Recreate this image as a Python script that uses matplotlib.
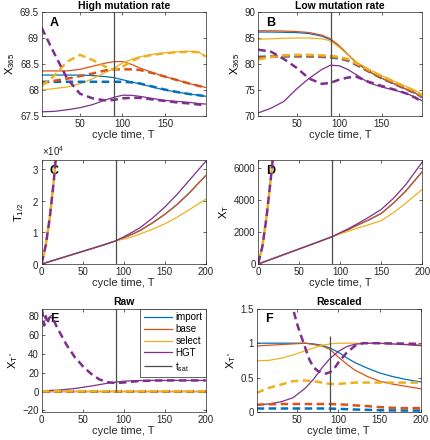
import matplotlib
matplotlib.use('Agg')
import matplotlib.pyplot as plt
from matplotlib.ticker import ScalarFormatter

plt.rcParams['font.family'] = ['Liberation Sans', 'DejaVu Sans']
plt.rcParams['mathtext.fontset'] = 'custom'
plt.rcParams['mathtext.rm'] = 'Liberation Sans'
plt.rcParams['mathtext.it'] = 'Liberation Sans'

# colours (MATLAB default order)
col_import = '#0072BD'
col_base = '#D95319'
col_select = '#EDB120'
col_hgt = '#7E2F8E'
col_tsat = '#4D4D4D'
t_sat = 90

# ---- panel A: high mutation rate, X_365 ----
ab_t = [5, 20, 35, 50, 65, 80, 90, 100, 110, 120, 135, 150, 165, 180, 190, 198]
a_import = [68.29, 68.29, 68.29, 68.29, 68.28, 68.26, 68.24, 68.2, 68.16, 68.12, 68.06, 68.0, 67.96, 67.92, 67.9, 67.88]
a_import_d = [68.16, 68.16, 68.16, 68.16, 68.16, 68.16, 68.16, 68.16, 68.15, 68.13, 68.07, 68.01, 67.96, 67.92, 67.9, 67.88]
a_base = [68.37, 68.37, 68.37, 68.4, 68.46, 68.52, 68.55, 68.55, 68.5, 68.43, 68.34, 68.26, 68.19, 68.12, 68.08, 68.05]
a_base_d = [68.13, 68.18, 68.22, 68.27, 68.32, 68.38, 68.4, 68.4, 68.4, 68.39, 68.33, 68.26, 68.19, 68.12, 68.08, 68.05]
a_select = [68.0, 68.03, 68.06, 68.12, 68.22, 68.34, 68.42, 68.52, 68.59, 68.64, 68.69, 68.72, 68.74, 68.75, 68.73, 68.65]
a_select_d = [68.08, 68.28, 68.55, 68.68, 68.58, 68.45, 68.39, 68.45, 68.55, 68.63, 68.68, 68.71, 68.73, 68.74, 68.73, 68.65]
a_hgt = [67.58, 67.59, 67.62, 67.66, 67.72, 67.81, 67.86, 67.9, 67.9, 67.88, 67.84, 67.8, 67.78, 67.76, 67.74, 67.73]
a_hgt_d = [69.2, 68.7, 68.22, 67.93, 67.84, 67.8, 67.81, 67.84, 67.85, 67.85, 67.82, 67.79, 67.76, 67.74, 67.72, 67.71]

# ---- panel B: low mutation rate, X_365 ----
b_import = [86.2, 86.2, 86.15, 86.1, 85.9, 85.4, 84.7, 83.4, 81.9, 80.3, 78.6, 77.3, 76.2, 75.1, 74.4, 73.6]
b_import_d = [81.4, 81.5, 81.5, 81.5, 81.5, 81.4, 81.3, 81.1, 80.7, 79.9, 78.6, 77.3, 76.2, 75.1, 74.4, 73.6]
b_base = [86.45, 86.45, 86.4, 86.3, 86.1, 85.6, 84.9, 83.6, 82.0, 80.4, 78.6, 77.3, 76.2, 75.1, 74.4, 73.7]
b_base_d = [81.2, 81.4, 81.6, 81.6, 81.6, 81.5, 81.4, 81.2, 80.8, 80.0, 78.6, 77.4, 76.3, 75.2, 74.5, 73.7]
b_select = [84.8, 84.9, 85.0, 85.05, 85.05, 84.9, 84.5, 83.3, 81.9, 80.5, 79.0, 77.8, 76.7, 75.6, 74.9, 74.1]
b_select_d = [80.9, 81.4, 81.7, 81.8, 81.8, 81.7, 81.6, 81.4, 81.0, 80.2, 78.9, 77.7, 76.6, 75.5, 74.8, 74.0]
b_hgt = [70.6, 71.5, 72.8, 75.2, 77.3, 79.0, 79.8, 79.7, 79.0, 78.0, 76.4, 75.6, 75.0, 74.3, 73.6, 72.9]
b_hgt_d = [82.8, 82.4, 81.0, 79.3, 77.2, 76.2, 76.4, 77.0, 77.4, 77.6, 76.6, 75.8, 75.1, 74.3, 73.5, 72.7]

# ---- panels C/D: T_1/2 and X_T ----
cd_t = [0, 25, 50, 75, 90, 100, 110, 120, 135, 150, 165, 180, 200]
c_base = [0, 2000, 4000, 6000, 7300, 8300, 9400, 10600, 13000, 15700, 18800, 22500, 28000]
c_select = [0, 2000, 4000, 6000, 7300, 7900, 8600, 9500, 11000, 12700, 14800, 17200, 20500]
c_hgt = [0, 2000, 4000, 6000, 7300, 8600, 10000, 11500, 14500, 18000, 22000, 26500, 32500]
cd_dash_t = [0, 5, 10, 15, 20]
c_dash = [200, 6000, 15000, 27000, 42000]

d_base = [0, 470, 940, 1410, 1700, 1920, 2150, 2400, 2750, 3150, 3800, 4550, 5750]
d_select = [0, 470, 940, 1410, 1700, 1880, 2040, 2220, 2450, 2700, 3200, 3800, 4650]
d_hgt = [0, 470, 940, 1410, 1700, 1950, 2200, 2480, 2920, 3400, 4100, 4950, 6350]
d_dash = [50, 1100, 2900, 5200, 7700]

# ---- panel E: raw X_T* ----
e_t = [0, 50, 100, 150, 200]
e_import = [1.0, 1.0, 1.0, 1.0, 1.0]
e_base = [1.0, 1.0, 1.0, 1.0, 1.0]
e_select = [0.9, 0.9, 0.9, 0.9, 0.9]
e_import_d = [0.1, 0.1, 0.1, 0.1, 0.1]
e_base_d = [0.15, 0.15, 0.15, 0.15, 0.15]
e_select_d = [0.3, 0.35, 0.35, 0.35, 0.35]
e_hgt_t = [0, 20, 40, 60, 80, 90, 100, 120, 140, 160, 200]
e_hgt = [0.9, 1.5, 3.2, 5.8, 8.8, 10.0, 11.0, 11.7, 11.9, 11.9, 11.8]
e_hgt_dt = [0, 1, 3, 5, 7, 9, 12, 20, 30, 40, 50, 60, 70, 80, 90, 100, 110, 120, 140, 160, 200]
e_hgt_d = [88, 84, 70, 80, 72, 78, 80, 66, 50, 37, 27, 19, 13, 10, 9, 9.6, 10.5, 11.2, 11.7, 11.8, 11.8]

# ---- panel F: rescaled X_T* ----
f_t = [1, 15, 30, 45, 60, 70, 80, 90, 100, 110, 120, 135, 150, 165, 180, 200]
f_import = [1.0, 1.0, 1.0, 1.0, 1.0, 0.99, 0.97, 0.93, 0.87, 0.79, 0.72, 0.64, 0.57, 0.52, 0.48, 0.44]
f_base = [0.96, 0.97, 0.98, 0.99, 1.0, 0.98, 0.96, 0.91, 0.8, 0.7, 0.61, 0.52, 0.45, 0.41, 0.38, 0.34]
f_select = [0.745, 0.75, 0.78, 0.83, 0.89, 0.93, 0.97, 0.99, 1.0, 1.0, 1.0, 1.0, 0.995, 0.99, 0.985, 0.98]
f_hgt = [0.107, 0.12, 0.15, 0.21, 0.35, 0.48, 0.64, 0.78, 0.88, 0.95, 0.985, 1.0, 1.0, 0.99, 0.98, 0.965]
f_import_d = [0.055, 0.055, 0.055, 0.055, 0.055, 0.055, 0.055, 0.053, 0.05, 0.045, 0.04, 0.035, 0.03, 0.027, 0.025, 0.025]
f_base_d = [0.11, 0.115, 0.12, 0.12, 0.12, 0.12, 0.12, 0.12, 0.115, 0.11, 0.1, 0.09, 0.075, 0.065, 0.06, 0.06]
f_select_d = [0.28, 0.35, 0.4, 0.45, 0.46, 0.45, 0.43, 0.41, 0.41, 0.42, 0.43, 0.43, 0.43, 0.43, 0.43, 0.43]
f_hgt_dt = [30, 45, 50, 55, 60, 65, 70, 75, 80, 85, 90, 95, 100, 110, 120, 130, 150, 175, 200]
f_hgt_d = [2.3, 1.5, 1.28, 1.1, 0.93, 0.76, 0.65, 0.6, 0.57, 0.56, 0.58, 0.63, 0.72, 0.86, 0.96, 1.0, 1.0, 0.995, 0.99]

lw_s = 0.9
lw_d = 1.8
dash = (3, 1.8)

fig = plt.figure(figsize=(4.3, 4.4), dpi=100)
w, h = 0.3814, 0.2355
axA = fig.add_axes([0.097, 0.7364, w, h])
axB = fig.add_axes([0.6007, 0.7364, w, h])
axC = fig.add_axes([0.097, 0.400, w, h])
axD = fig.add_axes([0.6007, 0.400, w, h])
axE = fig.add_axes([0.097, 0.063, w, h])
axF = fig.add_axes([0.597, 0.063, w, h])


def style(ax, letter):
    ax.tick_params(direction='in', top=True, right=True, length=2.5, width=0.5,
                   labelsize=7, colors='#262626', pad=2)
    for s in ax.spines.values():
        s.set_linewidth(0.5)
        s.set_color('#262626')
    ax.set_xlabel('cycle time, T', fontsize=8, color='#262626', labelpad=1)
    ax.text(0.05, 0.9, letter, transform=ax.transAxes, fontsize=9,
            fontweight='bold', ha='left', va='center', zorder=1)


def four(ax, t, imp, base, sel, hgt, imp_d, base_d, sel_d, hgt_d, t_hd=None):
    if t_hd is None:
        t_hd = t
    ax.plot(t, imp, color=col_import, lw=lw_s)
    ax.plot(t, base, color=col_base, lw=lw_s)
    ax.plot(t, sel, color=col_select, lw=lw_s)
    ax.plot(t, hgt, color=col_hgt, lw=lw_s)
    ax.plot(t, imp_d, color=col_import, lw=lw_d, ls='--', dashes=dash)
    ax.plot(t, base_d, color=col_base, lw=lw_d, ls='--', dashes=dash)
    ax.plot(t, sel_d, color=col_select, lw=lw_d, ls='--', dashes=dash)
    ax.plot(t_hd, hgt_d, color=col_hgt, lw=lw_d, ls='--', dashes=dash)


# A
four(axA, ab_t, a_import, a_base, a_select, a_hgt, a_import_d, a_base_d, a_select_d, a_hgt_d)
axA.axvline(t_sat, color=col_tsat, lw=0.9)
axA.set_xlim(5, 198)
axA.set_ylim(67.5, 69.5)
axA.set_xticks([50, 100, 150])
axA.set_yticks([67.5, 68, 68.5, 69, 69.5])
axA.set_yticklabels(['67.5', '68', '68.5', '69', '69.5'])
axA.set_ylabel('X$_{365}$', fontsize=8, labelpad=2)
axA.set_title('High mutation rate', fontsize=7.5, fontweight='bold', pad=2.5)
style(axA, 'A')

# B
four(axB, ab_t, b_import, b_base, b_select, b_hgt, b_import_d, b_base_d, b_select_d, b_hgt_d)
axB.axvline(t_sat, color=col_tsat, lw=0.9)
axB.set_xlim(5, 198)
axB.set_ylim(70, 90)
axB.set_xticks([50, 100, 150])
axB.set_yticks([70, 75, 80, 85, 90])
axB.set_ylabel('X$_{365}$', fontsize=8, labelpad=2)
axB.set_title('Low mutation rate', fontsize=7.5, fontweight='bold', pad=2.5)
style(axB, 'B')

# C
axC.plot(cd_t, c_base, color=col_import, lw=lw_s)
axC.plot(cd_t, c_base, color=col_base, lw=lw_s)
axC.plot(cd_t, c_select, color=col_select, lw=lw_s)
axC.plot(cd_t, c_hgt, color=col_hgt, lw=lw_s)
axC.plot(cd_dash_t, c_dash, color=col_select, lw=lw_d, ls=(2.4, dash))
axC.plot(cd_dash_t, c_dash, color=col_hgt, lw=lw_d, ls='--', dashes=dash)
axC.axvline(t_sat, color=col_tsat, lw=0.9)
axC.set_xlim(0, 200)
axC.set_ylim(0, 32800)
axC.set_xticks([0, 50, 100, 150, 200])
axC.set_yticks([0, 10000, 20000, 30000])
fmt = ScalarFormatter(useMathText=True)
fmt.set_powerlimits((0, 0))
axC.yaxis.set_major_formatter(fmt)
axC.yaxis.get_offset_text().set_fontsize(7)
axC.yaxis.get_offset_text().set_color('#262626')
axC.set_ylabel('T$_{1/2}$', fontsize=8, labelpad=4)
style(axC, 'C')

# D
axD.plot(cd_t, d_base, color=col_import, lw=lw_s)
axD.plot(cd_t, d_base, color=col_base, lw=lw_s)
axD.plot(cd_t, d_select, color=col_select, lw=lw_s)
axD.plot(cd_t, d_hgt, color=col_hgt, lw=lw_s)
axD.plot(cd_dash_t, d_dash, color=col_select, lw=lw_d, ls=(2.4, dash))
axD.plot(cd_dash_t, d_dash, color=col_hgt, lw=lw_d, ls='--', dashes=dash)
axD.axvline(t_sat, color=col_tsat, lw=0.9)
axD.set_xlim(0, 200)
axD.set_ylim(0, 6450)
axD.set_xticks([0, 50, 100, 150, 200])
axD.set_yticks([0, 2000, 4000, 6000])
axD.set_ylabel('X$_T$', fontsize=8, labelpad=2)
style(axD, 'D')

# E
axE.plot(e_t, e_import, color=col_import, lw=lw_s, label='import')
axE.plot(e_t, e_base, color=col_base, lw=lw_s, label='base')
axE.plot(e_t, e_select, color=col_select, lw=lw_s, label='select')
axE.plot(e_hgt_t, e_hgt, color=col_hgt, lw=lw_s, label='HGT')
axE.plot(e_t, e_import_d, color=col_import, lw=lw_d, ls='--', dashes=dash)
axE.plot(e_t, e_base_d, color=col_base, lw=lw_d, ls='--', dashes=dash)
axE.plot(e_t, e_select_d, color=col_select, lw=lw_d, ls='--', dashes=dash)
axE.plot(e_hgt_dt, e_hgt_d, color=col_hgt, lw=lw_d, ls='--', dashes=dash)
axE.vlines(t_sat, 0, 100, color=col_tsat, lw=0.9, label='t$_{sat}$')
axE.set_xlim(0, 200)
axE.set_ylim(-22, 88)
axE.set_xticks([0, 50, 100, 150, 200])
axE.set_yticks([-20, 0, 20, 40, 60, 80])
axE.set_ylabel('X$_{T^*}$', fontsize=8, labelpad=2)
axE.set_title('Raw', fontsize=7.5, fontweight='bold', pad=2.5)
leg = axE.legend(loc='upper right', fontsize=7, frameon=True, fancybox=False,
                 borderaxespad=0, handlelength=2.9, handletextpad=0.35,
                 labelspacing=0.2, borderpad=0.35, framealpha=1)
leg.get_frame().set_edgecolor('#262626')
leg.get_frame().set_linewidth(0.5)
style(axE, 'E')

# F
four(axF, f_t, f_import, f_base, f_select, f_hgt, f_import_d, f_base_d, f_select_d, f_hgt_d, t_hd=f_hgt_dt)
axF.vlines(t_sat, 0, 1.1, color=col_tsat, lw=0.9)
axF.set_xlim(1, 200)
axF.set_ylim(0, 1.5)
axF.set_xticks([50, 100, 150, 200])
axF.set_yticks([0, 0.5, 1, 1.5])
axF.set_yticklabels(['0', '0.5', '1', '1.5'])
axF.set_ylabel('X$_{T^*}$', fontsize=8, labelpad=2)
axF.set_title('Rescaled', fontsize=7.5, fontweight='bold', pad=2.5)
style(axF, 'F')

fig.savefig('out.png', dpi=100)
